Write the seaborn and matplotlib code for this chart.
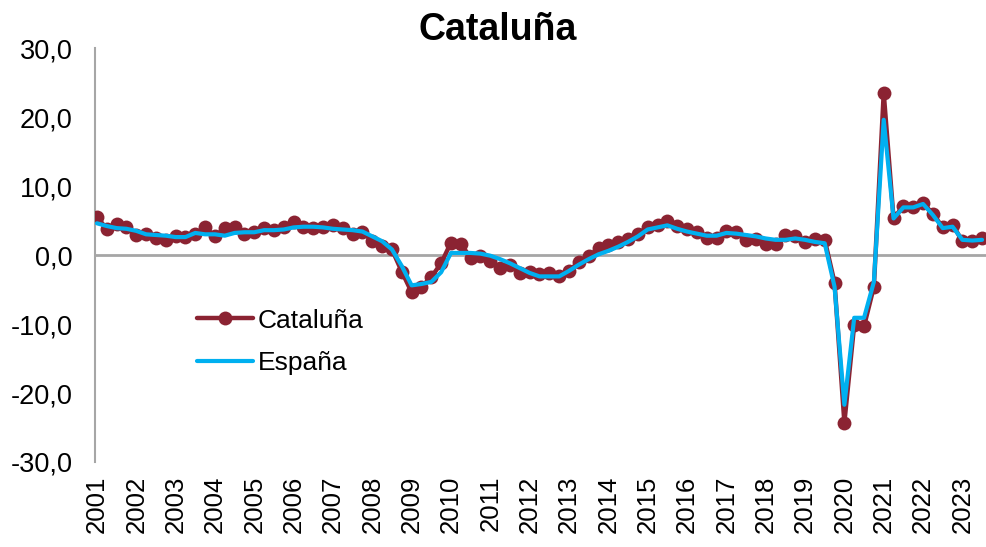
import matplotlib
matplotlib.use("Agg")
import matplotlib.pyplot as plt
import numpy as np
import pandas as pd
import seaborn as sns

years = [str(y) for y in range(2001, 2024)]

cataluna = [5.5, 3.8, 4.5, 4.1, 2.9, 3.0, 2.5, 2.2, 2.7, 2.6,
            3.1, 4.0, 2.7, 3.9, 4.0, 3.0, 3.4, 3.9, 3.6, 4.0,
            4.8, 4.0, 3.9, 4.1, 4.3, 3.9, 3.0, 3.4, 2.0, 1.3,
            0.8, -2.4, -5.4, -4.6, -3.2, -1.2, 1.8, 1.6, -0.4, -0.2,
            -0.9, -1.9, -1.4, -2.6, -2.5, -2.7, -2.6, -3.1, -2.3, -1.0,
            -0.2, 1.0, 1.4, 1.9, 2.3, 3.1, 4.0, 4.3, 5.0, 4.2,
            3.8, 3.4, 2.5, 2.4, 3.5, 3.3, 2.2, 2.3, 1.6, 1.6,
            2.9, 2.7, 1.9, 2.3, 2.2, -4.0, -24.3, -10.1, -10.3, -4.6,
            23.5, 5.3, 7.1, 7.0, 7.5, 6.0, 4.0, 4.4, 2.0, 2.0,
            2.4]

espana = [4.6, 4.2, 3.9, 3.8, 3.5, 3.0, 2.9, 2.8, 2.6, 2.6,
          3.2, 3.0, 3.0, 2.8, 3.2, 3.3, 3.3, 3.6, 3.6, 3.7,
          4.0, 4.1, 4.1, 4.0, 3.8, 3.7, 3.6, 3.4, 2.7, 2.0,
          0.8, -1.6, -4.4, -4.2, -3.9, -2.5, 0.3, 0.3, 0.3, 0.2,
          -0.1, -0.6, -1.2, -1.9, -2.6, -3.1, -3.1, -3.1, -2.3, -1.4,
          -0.6, 0.1, 0.6, 1.2, 1.9, 2.7, 3.7, 4.0, 4.3, 3.8,
          3.4, 3.1, 2.8, 2.8, 3.2, 3.1, 2.9, 2.7, 2.4, 2.2,
          2.2, 2.4, 2.2, 1.9, 1.7, -4.6, -21.7, -9.1, -9.1, -3.9,
          19.6, 5.3, 6.9, 6.9, 7.4, 5.8, 3.9, 4.1, 2.2, 2.1,
          2.2]

yticks = [-30, -20, -10, 0, 10, 20, 30]
ytick_labels = ["-30,0", "-20,0", "-10,0", "0,0", "10,0", "20,0", "30,0"]

df = pd.DataFrame({"t": np.arange(len(cataluna)),
                   "Cataluña": cataluna,
                   "España": espana})

sns.set_style("white")
plt.rcParams["font.family"] = ["Liberation Sans", "DejaVu Sans"]
plt.rcParams["text.color"] = "black"
plt.rcParams["xtick.color"] = "black"
plt.rcParams["ytick.color"] = "black"

red = "#8B2332"
blue = "#00B0F0"
grey = "#A6A6A6"

fig = plt.figure(figsize=(9.86, 5.47), dpi=100)
ax = fig.add_axes([0.0963, 0.1554, 0.9037, 0.7568])

ax.axhline(0, color=grey, lw=2, zorder=1)

sns.lineplot(data=df, x="t", y="Cataluña", ax=ax, color=red, lw=3.2,
             marker="o", markersize=10, markeredgecolor=red,
             markeredgewidth=0, label="Cataluña", zorder=3)
sns.lineplot(data=df, x="t", y="España", ax=ax, color=blue, lw=3.0,
             label="España", zorder=4)

ax.set_xlim(-0.2, 90.4)
ax.set_ylim(-30, 30)
ax.set_yticks(yticks)
ax.set_yticklabels(ytick_labels)
ax.set_xticks(np.arange(0, len(years) * 4, 4))
ax.set_xticklabels(years, rotation=90)
ax.set_xlabel("")
ax.set_ylabel("")

ax.tick_params(axis="y", direction="in", length=7, width=1.5, color=grey,
               labelcolor="black", labelsize=19.5, pad=16)
ax.tick_params(axis="x", length=0, labelsize=18.5, labelcolor="black", pad=10)

for s in ["top", "right", "bottom"]:
    ax.spines[s].set_visible(False)
ax.spines["left"].set_color(grey)
ax.spines["left"].set_linewidth(1.5)

fig.text(498 / 986, 1 - 30 / 547, "Cataluña", fontsize=27, fontweight="bold",
         ha="center", va="center", color="black")

leg = ax.legend(loc="center left", bbox_to_anchor=(0.088, 0.29),
                frameon=False, fontsize=19, handlelength=2.1,
                handletextpad=0.2, labelspacing=0.7)
for t in leg.get_texts():
    t.set_color("black")

fig.savefig("out.png", dpi=100)
